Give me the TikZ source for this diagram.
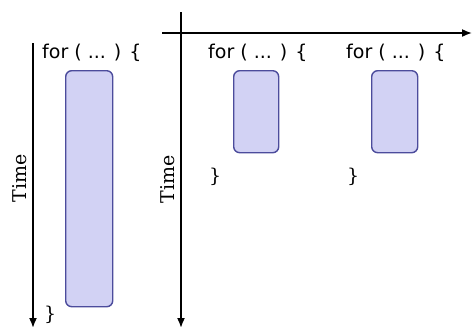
\documentclass[tikz,border=0pt]{standalone}
\usepackage{fontspec}
\usetikzlibrary{arrows.meta}
\newfontfamily\codefont{DejaVu Sans}
\newfontfamily\labelfont{DejaVu Serif}
\definecolor{blockfill}{RGB}{210,210,244}
\definecolor{blockline}{RGB}{76,76,156}
\begin{document}
\begin{tikzpicture}[x=1pt,y=-1pt,
  axis/.style={line width=1.6pt,-{Latex[length=10pt,width=8pt]}},
  blockbox/.style={draw=blockline,fill=blockfill,line width=1.4pt,rounded corners=6pt,
    inner sep=0pt,anchor=north west},
  code/.style={inner sep=0pt,anchor=base west,font=\codefont\fontsize{19}{22}\selectfont},
  brace/.style={inner sep=0pt,anchor=west,font=\labelfont\fontsize{19}{22}\selectfont},
  timelabel/.style={inner sep=0pt,rotate=90,font=\labelfont\fontsize{19}{22}\selectfont}]
\useasboundingbox (0,0) rectangle (472,327);

% sequential loop: one long block along the time axis
\coordinate (t1s) at (33,43);
\coordinate (t1e) at (33,328);
\draw[axis] (t1s) -- (t1e);
\node[timelabel] (time1) at (20,178) {Time};
\node[code] (for1) at (42,58) {for ( ... ) \{};
\node[blockbox,minimum width=47pt,minimum height=236pt] (body1) at (65,70) {};
\node[brace] (close1) at (44,315) {\}};

% parallel loops: two short blocks side by side
\coordinate (t2s) at (181,12);
\coordinate (t2e) at (181,328);
\coordinate (hs) at (162,33);
\coordinate (he) at (472,33);
\draw[axis] (t2s) -- (t2e);
\draw[axis] (hs) -- (he);
\node[timelabel] (time2) at (168,179) {Time};

\node[code] (for2) at (208,58) {for ( ... ) \{};
\node[blockbox,minimum width=45pt,minimum height=82pt] (body2) at (233,70) {};
\node[brace] (close2) at (209,177) {\}};

\node[code] (for3) at (346,58) {for ( ... ) \{};
\node[blockbox,minimum width=46pt,minimum height=82pt] (body3) at (371,70) {};
\node[brace] (close3) at (347,177) {\}};
\end{tikzpicture}
\end{document}
